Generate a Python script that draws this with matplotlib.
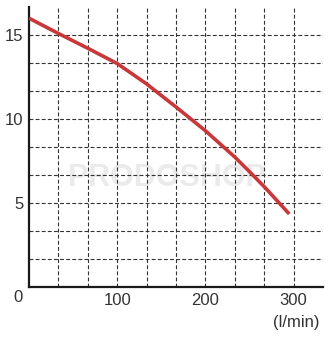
import numpy as np
import matplotlib.pyplot as plt

plt.rcParams['font.family'] = ['Liberation Sans', 'DejaVu Sans']

# pump curve
flow = [0, 33, 67, 100, 133, 167, 200, 233, 254, 267, 295]
head = [16.0, 15.1, 14.2, 13.3, 12.1, 10.7, 9.3, 7.75, 6.65, 5.95, 4.35]

x_grid = [100 / 3 * i for i in range(1, 10)]
y_grid = [5 / 3 * i for i in range(1, 10)]
x_labels = ["", "", "100", "", "", "200", "", "", "300"]
y_labels = ["", "", "5", "", "", "10", "", "", "15"]

fig = plt.figure(figsize=(3.33, 3.5), dpi=100)
ax = fig.add_axes([0.0871, 0.18, 0.883, 0.80])

ax.text(156, 6.5, "PRODOSHOP", fontsize=22, fontweight='bold', color='#ebebeb',
        ha='center', va='center', zorder=0)

ax.plot(flow, head, color='#c8383a', linewidth=2.6, solid_capstyle='butt', zorder=3)

ax.set_xlim(0, 1000 / 3)
ax.set_ylim(0, 50 / 3)
ax.set_xticks(x_grid)
ax.set_xticklabels(x_labels)
ax.set_yticks(y_grid)
ax.set_yticklabels(y_labels)
ax.tick_params(length=0, labelsize=12, colors='#333333', pad=4)
ax.grid(True, color='#333333', linestyle=(0, (3.5, 2)), linewidth=0.8)

for side in ['top', 'right']:
    ax.spines[side].set_visible(False)
for side in ['left', 'bottom']:
    ax.spines[side].set_linewidth(1.6)
    ax.spines[side].set_color('#1a1a1a')

ax.text(-12.5, -0.039, "0", transform=ax.get_xaxis_transform(), fontsize=12,
        color='#333333', ha='center', va='center', clip_on=False)
ax.text(303, -0.125, "(l/min)", transform=ax.get_xaxis_transform(), fontsize=12,
        color='#333333', ha='center', va='center', clip_on=False)

fig.savefig('out.png', dpi=100)
